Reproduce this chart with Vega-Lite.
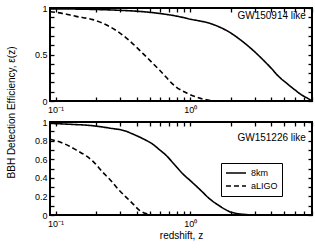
{
  "$schema": "https://vega.github.io/schema/vega-lite/v6.json",
  "padding": {"left": 5, "top": 3, "right": 5, "bottom": 5},
  "background": "white",
  "config": {
    "font": "Liberation Sans",
    "view": {"stroke": "black", "strokeWidth": 2},
    "axis": {"domain": false, "grid": false, "ticks": true, "zindex": 1, "offset": -4, "tickColor": "#000000", "tickOpacity": 1, "tickWidth": 1.3, "tickSize": 4, "labelColor": "black", "labelFontSize": 9, "titleFontWeight": "normal", "titleFontSize": 10, "titleColor": "black", "labelFont": "Liberation Sans", "titleFont": "Liberation Sans"},
    "legend": {"strokeColor": "black", "padding": 4, "labelFontSize": 9, "labelColor": "black", "symbolType": "stroke", "symbolStrokeWidth": 1.5, "symbolSize": 400, "symbolStrokeColor": "black", "clipHeight": 12, "rowPadding": 1, "labelFont": "Liberation Sans"}
  },
  "datasets": {
    "curves": [
      {"panel": "GW150914", "detector": "8km", "z": 0.091, "eff": 0.99},
      {"panel": "GW150914", "detector": "8km", "z": 0.15, "eff": 0.988},
      {"panel": "GW150914", "detector": "8km", "z": 0.2, "eff": 0.984},
      {"panel": "GW150914", "detector": "8km", "z": 0.3, "eff": 0.975},
      {"panel": "GW150914", "detector": "8km", "z": 0.45, "eff": 0.96},
      {"panel": "GW150914", "detector": "8km", "z": 0.6, "eff": 0.94},
      {"panel": "GW150914", "detector": "8km", "z": 0.81, "eff": 0.91},
      {"panel": "GW150914", "detector": "8km", "z": 1.0, "eff": 0.88},
      {"panel": "GW150914", "detector": "8km", "z": 1.43, "eff": 0.83},
      {"panel": "GW150914", "detector": "8km", "z": 1.9, "eff": 0.75},
      {"panel": "GW150914", "detector": "8km", "z": 2.54, "eff": 0.62},
      {"panel": "GW150914", "detector": "8km", "z": 3.0, "eff": 0.53},
      {"panel": "GW150914", "detector": "8km", "z": 3.37, "eff": 0.46},
      {"panel": "GW150914", "detector": "8km", "z": 4.0, "eff": 0.35},
      {"panel": "GW150914", "detector": "8km", "z": 4.48, "eff": 0.27},
      {"panel": "GW150914", "detector": "8km", "z": 5.3, "eff": 0.18},
      {"panel": "GW150914", "detector": "8km", "z": 5.97, "eff": 0.12},
      {"panel": "GW150914", "detector": "8km", "z": 6.7, "eff": 0.065},
      {"panel": "GW150914", "detector": "8km", "z": 7.4, "eff": 0.03},
      {"panel": "GW150914", "detector": "8km", "z": 8.0, "eff": 0.0},
      {"panel": "GW150914", "detector": "aLIGO", "z": 0.091, "eff": 0.96},
      {"panel": "GW150914", "detector": "aLIGO", "z": 0.11, "eff": 0.945},
      {"panel": "GW150914", "detector": "aLIGO", "z": 0.142, "eff": 0.91},
      {"panel": "GW150914", "detector": "aLIGO", "z": 0.189, "eff": 0.875},
      {"panel": "GW150914", "detector": "aLIGO", "z": 0.252, "eff": 0.8},
      {"panel": "GW150914", "detector": "aLIGO", "z": 0.334, "eff": 0.68},
      {"panel": "GW150914", "detector": "aLIGO", "z": 0.446, "eff": 0.51},
      {"panel": "GW150914", "detector": "aLIGO", "z": 0.593, "eff": 0.33},
      {"panel": "GW150914", "detector": "aLIGO", "z": 0.786, "eff": 0.15},
      {"panel": "GW150914", "detector": "aLIGO", "z": 0.96, "eff": 0.08},
      {"panel": "GW150914", "detector": "aLIGO", "z": 1.15, "eff": 0.035},
      {"panel": "GW150914", "detector": "aLIGO", "z": 1.35, "eff": 0.01},
      {"panel": "GW150914", "detector": "aLIGO", "z": 1.6, "eff": 0.0},
      {"panel": "GW150914", "detector": "aLIGO", "z": 2.0, "eff": 0.0},
      {"panel": "GW151226", "detector": "8km", "z": 0.091, "eff": 0.985},
      {"panel": "GW151226", "detector": "8km", "z": 0.13, "eff": 0.975},
      {"panel": "GW151226", "detector": "8km", "z": 0.189, "eff": 0.96},
      {"panel": "GW151226", "detector": "8km", "z": 0.25, "eff": 0.935},
      {"panel": "GW151226", "detector": "8km", "z": 0.335, "eff": 0.9},
      {"panel": "GW151226", "detector": "8km", "z": 0.375, "eff": 0.87},
      {"panel": "GW151226", "detector": "8km", "z": 0.446, "eff": 0.82},
      {"panel": "GW151226", "detector": "8km", "z": 0.528, "eff": 0.76},
      {"panel": "GW151226", "detector": "8km", "z": 0.593, "eff": 0.7},
      {"panel": "GW151226", "detector": "8km", "z": 0.663, "eff": 0.64},
      {"panel": "GW151226", "detector": "8km", "z": 0.745, "eff": 0.56},
      {"panel": "GW151226", "detector": "8km", "z": 0.883, "eff": 0.44},
      {"panel": "GW151226", "detector": "8km", "z": 1.0, "eff": 0.37},
      {"panel": "GW151226", "detector": "8km", "z": 1.206, "eff": 0.26},
      {"panel": "GW151226", "detector": "8km", "z": 1.4, "eff": 0.17},
      {"panel": "GW151226", "detector": "8km", "z": 1.6, "eff": 0.11},
      {"panel": "GW151226", "detector": "8km", "z": 2.01, "eff": 0.03},
      {"panel": "GW151226", "detector": "8km", "z": 2.54, "eff": 0.006},
      {"panel": "GW151226", "detector": "8km", "z": 3.0, "eff": 0.0},
      {"panel": "GW151226", "detector": "8km", "z": 8.0, "eff": 0.0},
      {"panel": "GW151226", "detector": "aLIGO", "z": 0.091, "eff": 0.815},
      {"panel": "GW151226", "detector": "aLIGO", "z": 0.11, "eff": 0.78},
      {"panel": "GW151226", "detector": "aLIGO", "z": 0.127, "eff": 0.74},
      {"panel": "GW151226", "detector": "aLIGO", "z": 0.142, "eff": 0.7},
      {"panel": "GW151226", "detector": "aLIGO", "z": 0.169, "eff": 0.635},
      {"panel": "GW151226", "detector": "aLIGO", "z": 0.189, "eff": 0.58},
      {"panel": "GW151226", "detector": "aLIGO", "z": 0.224, "eff": 0.46},
      {"panel": "GW151226", "detector": "aLIGO", "z": 0.252, "eff": 0.385},
      {"panel": "GW151226", "detector": "aLIGO", "z": 0.299, "eff": 0.26},
      {"panel": "GW151226", "detector": "aLIGO", "z": 0.335, "eff": 0.19},
      {"panel": "GW151226", "detector": "aLIGO", "z": 0.375, "eff": 0.12},
      {"panel": "GW151226", "detector": "aLIGO", "z": 0.42, "eff": 0.05},
      {"panel": "GW151226", "detector": "aLIGO", "z": 0.47, "eff": 0.015},
      {"panel": "GW151226", "detector": "aLIGO", "z": 0.52, "eff": 0.003},
      {"panel": "GW151226", "detector": "aLIGO", "z": 0.6, "eff": 0.0},
      {"panel": "GW151226", "detector": "aLIGO", "z": 0.7, "eff": 0.0}
    ]
  },
  "bounds": "flush",
  "spacing": 21,
  "resolve": {"legend": {"strokeDash": "independent"}},
  "vconcat": [
    {
      "width": 262,
      "height": 93,
      "layer": [
        {
          "data": {"name": "curves"},
          "transform": [{"filter": "datum.panel == 'GW150914'"}],
          "mark": {"type": "line", "color": "black", "strokeWidth": 1.6, "clip": true, "interpolate": "monotone"},
          "encoding": {
            "x": {"field": "z", "type": "quantitative", "scale": {"type": "log", "domain": [0.091, 8], "nice": false},
              "axis": {"orient": "bottom", "title": null, "ticks": true, "tickSize": 4, "tickColor": "#000000", "tickWidth": 1.3, "offset": -4,
                "values": [0.1,0.2,0.3,0.4,0.5,0.6,0.7,0.8,0.9,1,2,3,4,5,6,7,8],
                "labelExpr": "datum.value == 0.1 ? '10⁻¹' : (datum.value == 1 ? '10⁰' : '')",
                "labelPadding": 4, "labelFontSize": 9}},
            "y": {"field": "eff", "type": "quantitative", "scale": {"domain": [0, 1], "nice": false},
              "axis": {"orient": "left", "title": "BBH Detection Efficiency, ε(z)", "titleY": 104, "titlePadding": 18,
                "ticks": true, "tickSize": 4, "tickColor": "#000000", "tickWidth": 1.3, "offset": -4,
                "values": [0,0.1,0.2,0.3,0.4,0.5,0.6,0.7,0.8,0.9,1],
                "labelExpr": "datum.value == 0 ? '0' : (datum.value == 0.5 ? '0.5' : (datum.value == 1 ? '1' : ''))",
                "labelPadding": 3}},
            "strokeDash": {"field": "detector", "type": "nominal", "scale": {"domain": ["8km", "aLIGO"], "range": [[1, 0], [5, 3]]}, "legend": null}
          }
        },
        {
          "data": {"values": [{}]},
          "mark": {"type": "text", "align": "right", "baseline": "middle", "fontSize": 10, "font": "Liberation Sans", "color": "black"},
          "encoding": {
            "x": {"datum": 7.2, "type": "quantitative",
              "axis": {"orient": "top", "title": null, "labels": false, "ticks": true, "tickSize": 4, "tickColor": "#000000", "tickWidth": 1.3, "offset": -4,
                "values": [0.1,0.2,0.3,0.4,0.5,0.6,0.7,0.8,0.9,1,2,3,4,5,6,7,8]}},
            "y": {"datum": 0.91, "type": "quantitative",
              "axis": {"orient": "right", "title": null, "labels": false, "ticks": true, "tickSize": 4, "tickColor": "#000000", "tickWidth": 1.3, "offset": -4,
                "values": [0,0.1,0.2,0.3,0.4,0.5,0.6,0.7,0.8,0.9,1]}},
            "text": {"value": "GW150914 like"}
          }
        }
      ],
      "resolve": {"axis": {"x": "independent", "y": "independent"}}
    },
    {
      "width": 262,
      "height": 93,
      "layer": [
        {
          "data": {"name": "curves"},
          "transform": [{"filter": "datum.panel == 'GW151226'"}],
          "mark": {"type": "line", "color": "black", "strokeWidth": 1.6, "clip": true, "interpolate": "monotone"},
          "encoding": {
            "x": {"field": "z", "type": "quantitative", "scale": {"type": "log", "domain": [0.091, 8], "nice": false},
              "axis": {"orient": "bottom", "title": "redshift, z", "titlePadding": 2, "ticks": true, "tickSize": 4, "tickColor": "#000000", "tickWidth": 1.3, "offset": -4,
                "values": [0.1,0.2,0.3,0.4,0.5,0.6,0.7,0.8,0.9,1,2,3,4,5,6,7,8],
                "labelExpr": "datum.value == 0.1 ? '10⁻¹' : (datum.value == 1 ? '10⁰' : '')",
                "labelPadding": 4, "labelFontSize": 9}},
            "y": {"field": "eff", "type": "quantitative", "scale": {"domain": [0, 1], "nice": false},
              "axis": {"orient": "left", "title": null, "ticks": true, "tickSize": 4, "tickColor": "#000000", "tickWidth": 1.3, "offset": -4,
                "values": [0,0.1,0.2,0.3,0.4,0.5,0.6,0.7,0.8,0.9,1],
                "labelExpr": "round(datum.value * 10) % 2 == 0 ? format(datum.value, '.1~f') : ''",
                "labelPadding": 3}},
            "strokeDash": {"field": "detector", "type": "nominal", "scale": {"domain": ["8km", "aLIGO"], "range": [[1, 0], [5, 3]]},
              "legend": {"title": null, "orient": "none", "legendX": 171, "legendY": 41, "strokeColor": "black"}}
          }
        },
        {
          "data": {"values": [{}]},
          "mark": {"type": "text", "align": "right", "baseline": "middle", "fontSize": 10, "font": "Liberation Sans", "color": "black"},
          "encoding": {
            "x": {"datum": 7.2, "type": "quantitative",
              "axis": {"orient": "top", "title": null, "labels": false, "ticks": true, "tickSize": 4, "tickColor": "#000000", "tickWidth": 1.3, "offset": -4,
                "values": [0.1,0.2,0.3,0.4,0.5,0.6,0.7,0.8,0.9,1,2,3,4,5,6,7,8]}},
            "y": {"datum": 0.83, "type": "quantitative",
              "axis": {"orient": "right", "title": null, "labels": false, "ticks": true, "tickSize": 4, "tickColor": "#000000", "tickWidth": 1.3, "offset": -4,
                "values": [0,0.1,0.2,0.3,0.4,0.5,0.6,0.7,0.8,0.9,1]}},
            "text": {"value": "GW151226 like"}
          }
        }
      ],
      "resolve": {"axis": {"x": "independent", "y": "independent"}}
    }
  ]
}
